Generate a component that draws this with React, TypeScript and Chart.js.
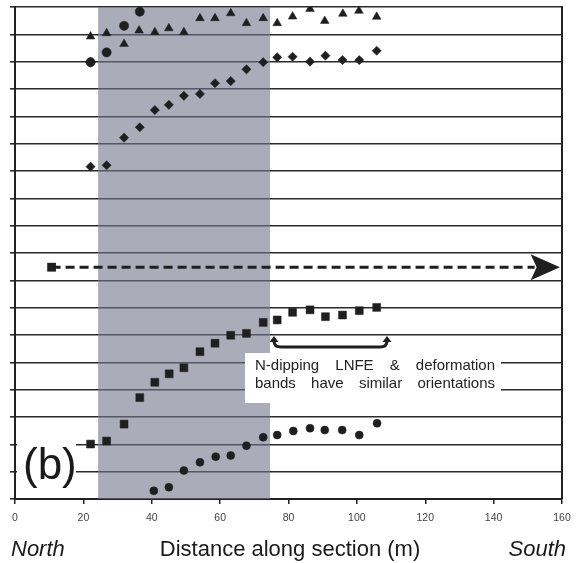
import React, { useEffect, useRef } from 'react';
import { Chart, registerables } from 'chart.js';

Chart.register(...registerables);

// ---- data ----
const X_TICKS = [0, 20, 40, 60, 80, 100, 120, 140, 160];
const BAND_X = [24.3, 74.6];

const triX = [22.1, 26.8, 31.9, 36.3, 40.9, 45.0, 49.4, 54.1, 58.5, 63.1, 67.7, 72.6, 76.7, 81.2, 86.3, 90.6, 95.9, 100.6, 105.8];
const triY = [16.92, 17.04, 16.65, 17.14, 17.08, 17.22, 17.08, 17.59, 17.59, 17.77, 17.41, 17.59, 17.41, 17.65, 17.93, 17.49, 17.75, 17.86, 17.64];

const diaX = [22.1, 26.8, 31.9, 36.5, 40.9, 45.0, 49.4, 54.1, 58.5, 63.1, 67.7, 72.6, 76.7, 81.2, 86.3, 90.8, 95.8, 100.7, 105.8];
const diaY = [12.16, 12.21, 13.22, 13.6, 14.23, 14.42, 14.75, 14.82, 15.21, 15.29, 15.72, 15.98, 16.16, 16.18, 16.0, 16.22, 16.06, 16.06, 16.4];
const diaExtraX = [22.1];
const diaExtraY = [15.98];

const circUpX = [22.1, 26.8, 31.9, 36.5];
const circUpY = [15.98, 16.34, 17.31, 17.83];

const circLowX = [40.6, 45.0, 49.4, 54.1, 58.7, 63.1, 67.7, 72.6, 76.7, 81.4, 86.3, 90.6, 95.7, 100.7, 105.9];
const circLowY = [0.3, 0.43, 1.04, 1.34, 1.55, 1.59, 1.95, 2.26, 2.34, 2.49, 2.59, 2.52, 2.52, 2.34, 2.77];

const sqX = [22.1, 26.8, 31.9, 36.5, 40.9, 45.1, 49.4, 54.1, 58.5, 63.1, 67.7, 72.6, 76.7, 81.2, 86.3, 90.8, 95.8, 100.7, 105.8];
const sqY = [2.01, 2.12, 2.74, 3.71, 4.27, 4.58, 4.8, 5.39, 5.7, 5.99, 6.06, 6.46, 6.55, 6.83, 6.92, 6.67, 6.73, 6.89, 7.01];

const arrowX = [10.7, 152.0];
const arrowTipX = 159.4;
const arrowY = 8.48;

const NOTE_LINE1 = ['N-dipping', 'LNFE', '&', 'deformation'];
const NOTE_LINE2 = ['bands', 'have', 'similar', 'orientations'];
const PANEL_LABEL = '(b)';
const X_TITLE = 'Distance along section (m)';
const LEFT_TITLE = 'North';
const RIGHT_TITLE = 'South';

const FONT = "'Liberation Sans', Arial, Helvetica, sans-serif";
const INK = '#1f1f1f';

const pts = (xs: number[], ys: number[]) => xs.map((x, i) => ({ x, y: ys[i] }));

function justify(ctx: CanvasRenderingContext2D, words: string[], x0: number, x1: number, y: number) {
  const widths = words.map((w) => ctx.measureText(w).width);
  const total = widths.reduce((a, b) => a + b, 0);
  const gap = (x1 - x0 - total) / (words.length - 1);
  let x = x0;
  words.forEach((w, i) => {
    ctx.fillText(w, x, y);
    x += widths[i] + gap;
  });
}

const overlayPlugin = {
  id: 'overlay',
  beforeDatasetsDraw(chart: any) {
    const { ctx, chartArea, scales } = chart;
    const xs = scales.x;
    ctx.save();
    const bx0 = xs.getPixelForValue(BAND_X[0]);
    const bx1 = xs.getPixelForValue(BAND_X[1]);
    ctx.fillStyle = 'rgba(113,117,138,0.6)';
    ctx.fillRect(bx0, chartArea.top, bx1 - bx0, chartArea.bottom - chartArea.top);
    ctx.strokeStyle = '#222';
    ctx.lineWidth = 2;
    ctx.beginPath();
    ctx.moveTo(chartArea.right, chartArea.top - 1);
    ctx.lineTo(chartArea.right, chartArea.bottom);
    ctx.stroke();
    ctx.fillStyle = '#fff';
    ctx.fillRect(chartArea.left + 2, 424, 76 - chartArea.left - 2, chartArea.bottom - 424 - 1);
    ctx.fillRect(245, 353, 256, 50);
    ctx.restore();
  },
  afterDatasetsDraw(chart: any) {
    const { ctx, chartArea, scales } = chart;
    const xs = scales.x;
    const ys = scales.y;
    ctx.save();
    const baseX = xs.getPixelForValue(arrowX[1]) - 1;
    const tipX = xs.getPixelForValue(arrowTipX);
    const ay = ys.getPixelForValue(arrowY);
    ctx.fillStyle = INK;
    ctx.beginPath();
    ctx.moveTo(tipX, ay);
    ctx.lineTo(baseX - 3, ay - 13);
    ctx.lineTo(baseX + 3, ay);
    ctx.lineTo(baseX - 3, ay + 13);
    ctx.closePath();
    ctx.fill();

    ctx.strokeStyle = INK;
    ctx.lineWidth = 3;
    ctx.beginPath();
    ctx.moveTo(274, 341);
    ctx.quadraticCurveTo(274, 347, 281, 347);
    ctx.lineTo(380, 347);
    ctx.quadraticCurveTo(387, 347, 387, 341);
    ctx.stroke();
    [274, 387].forEach((cx) => {
      ctx.beginPath();
      ctx.moveTo(cx, 336);
      ctx.lineTo(cx - 4.5, 342);
      ctx.lineTo(cx + 4.5, 342);
      ctx.closePath();
      ctx.fill();
    });

    ctx.fillStyle = '#222';
    ctx.font = `15px ${FONT}`;
    ctx.textBaseline = 'alphabetic';
    ctx.textAlign = 'left';
    justify(ctx, NOTE_LINE1, 255, 495, 370);
    justify(ctx, NOTE_LINE2, 255, 495, 388);

    ctx.fillStyle = '#1a1a1a';
    ctx.font = `44px ${FONT}`;
    ctx.fillText(PANEL_LABEL, 23, 479);

    ctx.fillStyle = '#1a1a1a';
    ctx.font = `22px ${FONT}`;
    ctx.textAlign = 'center';
    ctx.fillText(X_TITLE, 290, 556);
    ctx.font = `italic 22px ${FONT}`;
    ctx.textAlign = 'left';
    ctx.fillText(LEFT_TITLE, 11, 556);
    ctx.textAlign = 'right';
    ctx.fillText(RIGHT_TITLE, 566, 556);
    ctx.restore();
  },
};

export default function App() {
  const ref = useRef<HTMLCanvasElement>(null);
  useEffect(() => {
    const canvas = ref.current;
    if (!canvas) return;
    const mk = (data: any[], style: string, radius: number) => ({
      data,
      pointStyle: style,
      pointRadius: radius,
      pointBackgroundColor: INK,
      pointBorderColor: INK,
      pointBorderWidth: 0.5,
      showLine: false,
    });
    const chart = new Chart(canvas, {
      type: 'scatter',
      data: {
        datasets: [
          {
            data: pts(arrowX, [arrowY, arrowY]),
            showLine: true,
            borderColor: INK,
            borderWidth: 3,
            borderDash: [9, 5],
            pointStyle: 'rect',
            pointRadius: [6.2, 0],
            pointBackgroundColor: INK,
            pointBorderColor: INK,
            pointBorderWidth: 0,
          } as any,
          mk(pts(triX, triY), 'triangle', 5),
          mk(pts(diaX, diaY), 'rectRot', 4.6),
          mk(pts(diaExtraX, diaExtraY), 'rectRot', 5),
          mk(pts(circUpX, circUpY), 'circle', 4.6),
          mk(pts(circLowX, circLowY), 'circle', 4),
          mk(pts(sqX, sqY), 'rect', 5.6),
        ],
      },
      options: {
        responsive: false,
        animation: false,
        devicePixelRatio: 1,
        layout: { padding: { top: 7, right: 18, left: 0, bottom: 0 } },
        plugins: { legend: { display: false }, tooltip: { enabled: false } },
        scales: {
          x: {
            type: 'linear',
            min: 0,
            max: 160,
            afterFit: (s: any) => {
              s.height = 64;
            },
            afterBuildTicks: (s: any) => {
              s.ticks = X_TICKS.map((v) => ({ value: v }));
            },
            grid: { drawOnChartArea: false, drawTicks: true, tickLength: 5, color: '#222', lineWidth: 1.5 },
            border: { display: true, color: '#222', width: 2 },
            ticks: { font: { family: FONT, size: 10.5 }, color: '#444', padding: 8, maxRotation: 0, autoSkip: false },
          },
          y: {
            type: 'linear',
            min: 0,
            max: 18,
            afterFit: (s: any) => {
              s.width = 15;
            },
            ticks: { display: false, stepSize: 1 },
            grid: { color: '#2b2b2b', lineWidth: 1.6, tickLength: 5, drawTicks: true },
            border: { display: true, color: '#222', width: 2 },
          },
        },
      },
      plugins: [overlayPlugin],
    });
    return () => chart.destroy();
  }, []);
  return (
    <div style={{ position: 'fixed', left: 0, top: 0, width: 580, height: 563, background: '#fff' }}>
      <canvas ref={ref} width={580} height={563} style={{ display: 'block', width: 580, height: 563 }} />
    </div>
  );
}
